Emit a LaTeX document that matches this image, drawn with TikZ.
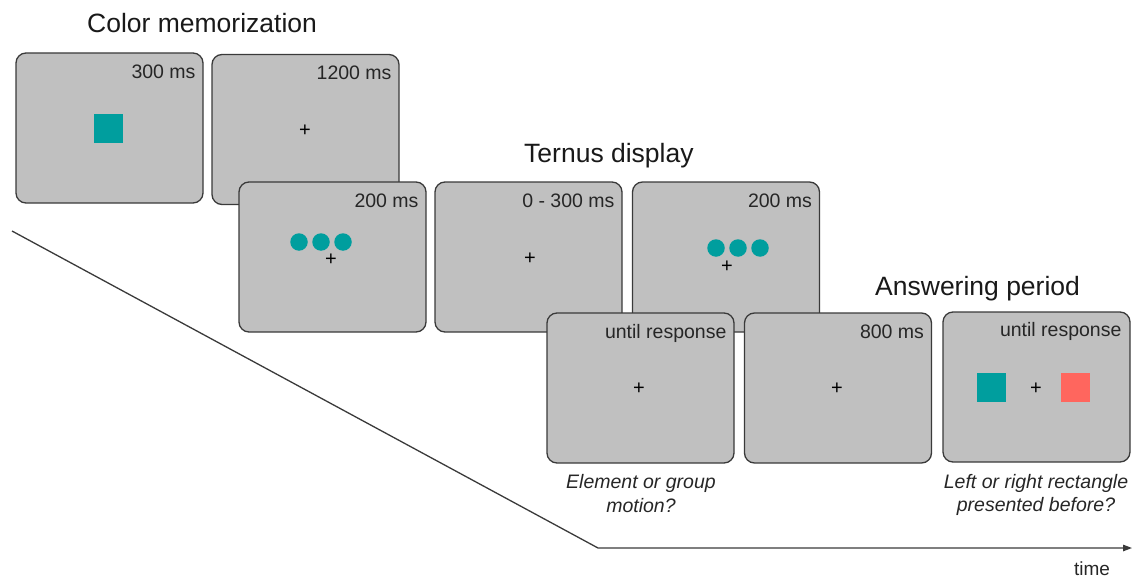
\documentclass[tikz,border=0pt]{standalone}
\usepackage{fontspec}
\setmainfont{Liberation Sans}
\usetikzlibrary{arrows.meta}
\definecolor{screen}{HTML}{C0C0C0}
\definecolor{frame}{HTML}{3A3A3A}
\definecolor{stimteal}{HTML}{009E9E}
\definecolor{stimsalmon}{HTML}{FF665E}
\begin{document}
\begin{tikzpicture}[x=1pt,y=-1pt,
  screenbox/.style={draw=frame,line width=1.3pt,fill=screen,rounded corners=10pt,
    minimum width=187pt,minimum height=150pt,inner sep=0pt},
  dur/.style={font=\fontsize{19.5}{22}\selectfont,inner sep=0pt,anchor=base east,text=black!85},
  phase/.style={font=\fontsize{26.5}{30}\selectfont,inner sep=0pt,anchor=base west,text=black!90},
  question/.style={font=\fontsize{19.5}{23.5}\selectfont\itshape,inner sep=0pt,align=center,anchor=north,text=black!85},
  fix/.style={font=\fontsize{20}{22}\selectfont,inner sep=0pt},
  dot/.style={circle,fill=stimteal,minimum size=17.5pt,inner sep=0pt},
  patch/.style={minimum size=29pt,inner sep=0pt},
  axis/.style={draw=frame,line width=1.3pt}
]
\useasboundingbox (0,0) rectangle (1136,578);

% time axis
\coordinate (t0) at (12,231);
\coordinate (t1) at (598,548);
\coordinate (t2) at (1132,548);
\draw[axis,-{Triangle[length=9pt,width=6.5pt]}] (t0) -- (t1) -- (t2);
\node[font=\fontsize{19}{22}\selectfont,inner sep=0pt,anchor=base,text=black!85] (tl) at (1092,575) {time};

% phase titles
\node[phase] (h1) at (87,33) {Color memorization};
\node[phase] (h2) at (524,162) {Ternus display};
\node[phase] (h3) at (875,295) {Answering period};

% color memorization
\node[screenbox] (p1) at (109.5,128) {};
\node[dur] (d1) at ([xshift=-8pt,yshift=-26pt]p1.north east) {300 ms};
\node[patch,fill=stimteal] (s1) at (108.5,128.5) {};

\node[screenbox] (p2) at (305.5,129.5) {};
\node[dur] (d2) at ([xshift=-8pt,yshift=-26pt]p2.north east) {1200 ms};
\node[fix] (f2) at (305,131) {+};

% Ternus display
\node[screenbox] (p3) at (332.5,257) {};
\node[dur] (d3) at ([xshift=-8pt,yshift=-26pt]p3.north east) {200 ms};
\node[dot] (c31) at (299,242) {};
\node[dot] (c32) at (321,242) {};
\node[dot] (c33) at (343,242) {};
\node[fix] (f3) at (331,260) {+};

\node[screenbox] (p4) at (528.5,257) {};
\node[dur] (d4) at ([xshift=-8pt,yshift=-26pt]p4.north east) {0 - 300 ms};
\node[fix] (f4) at (530,259) {+};

\node[screenbox] (p5) at (726,257) {};
\node[dur] (d5) at ([xshift=-8pt,yshift=-26pt]p5.north east) {200 ms};
\node[dot] (c51) at (716,248) {};
\node[dot] (c52) at (738,248) {};
\node[dot] (c53) at (760,248) {};
\node[fix] (f5) at (727,267) {+};

% answering period
\node[screenbox] (p6) at (640.5,388) {};
\node[dur] (d6) at ([xshift=-8pt,yshift=-26pt]p6.north east) {until response};
\node[fix] (f6) at (639,389) {+};
\node[question] (q1) at (641,474.5) {Element or group\\motion?};

\node[screenbox] (p7) at (838,388) {};
\node[dur] (d7) at ([xshift=-8pt,yshift=-26pt]p7.north east) {800 ms};
\node[fix] (f7) at (837,389) {+};

\node[screenbox] (p8) at (1036.5,387) {};
\node[dur] (d8) at ([xshift=-9pt,yshift=-25pt]p8.north east) {until response};
\node[patch,fill=stimteal] (s81) at (991,387.5) {};
\node[fix] (f8) at (1036,389) {+};
\node[patch,fill=stimsalmon] (s82) at (1075,387.5) {};
\node[question] (q2) at (1036,474) {Left or right rectangle\\presented before?};
\end{tikzpicture}
\end{document}
